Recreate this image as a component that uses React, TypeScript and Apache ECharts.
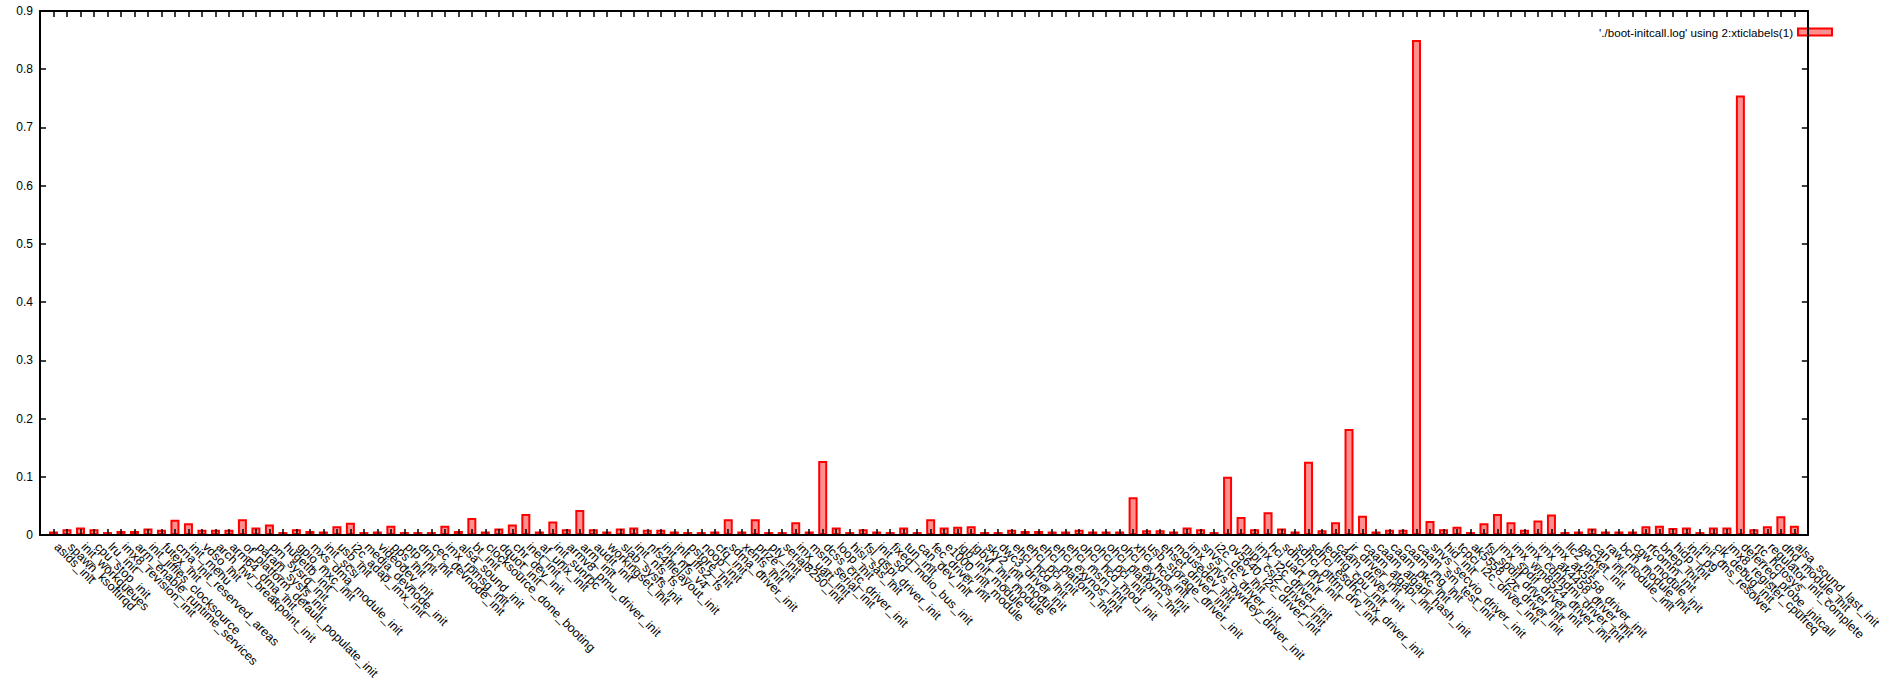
import React, { useEffect, useRef } from "react";
import * as echarts from "echarts";

const labels: string[] = [
  "asids_init", "spawn_ksoftirqd", "init_workqueues", "cpu_stop_init", "lru_init",
  "imx8_revision_init", "arm_enable_runtime_services", "init_jiffies_clocksource", "futex_init", "cma_init_reserved_areas",
  "init_menu", "vdso_init", "arch_hw_breakpoint_init", "arm64_dma_init", "of_platform_default_populate_init",
  "param_sysfs_init", "pm_sysrq_init", "hugetlb_init", "gpio_mxc_init", "mxs_dma_module_init",
  "init_scsi", "usb_init", "i2c_adap_imx_init", "media_devnode_init", "videodev_init",
  "pps_init", "ptp_init", "dmi_init", "cec_devnode_init", "imx_rpmsg_init",
  "alsa_sound_init", "bt_init", "clocksource_done_booting", "dquot_init", "chr_dev_init",
  "inet_init", "af_unix_init", "init_sunrpc", "armv8_pmu_driver_init", "arm_init",
  "audit_init", "workingset_init", "slab_sysfs_init", "init_nfs_fs", "nfs4filelayout_init",
  "init_nfs_v4", "init_jffs2_fs", "pstore_init", "noop_init", "cfq_init",
  "sdma_driver_init", "xenfs_init", "prize_init", "pty_init", "serial8250_init",
  "imx_uart_init", "msm_serial_init", "dcss_crtc_driver_init", "loop_init", "hisi_sas_init",
  "fsl_qspi_driver_init", "init_sd", "fixed_mdio_bus_init", "tun_init", "can_dev_init",
  "fec_driver_init", "e1000_init_module", "igb_init_module", "igbvf_init_module", "sky2_init_module",
  "dwc3_driver_init", "ehci_hcd_init", "ehci_pci_init", "ehci_platform_init", "ehci_exynos_init",
  "ehci_msm_init", "ohci_hcd_mod_init", "ohci_pci_init", "ohci_platform_init", "ohci_exynos_init",
  "xhci_hcd_init", "usb_storage_driver_init", "ehset_driver_init", "mousedev_init", "imx_snvs_pwrkey_driver_init",
  "snvs_rtc_driver_init", "i2c_dev_init", "ov5640_i2c_driver_init", "mipi_csi2_driver_init", "imx_i2c_driver_init",
  "hci_uart_init", "sdhci_drv_init", "sdhci_pltfm_drv_init", "sdhci_esdhc_imx_driver_init", "ledtrig_cpu_init",
  "caam_driver_init", "jr_driver_init", "caam_algapi_init", "caam_algapi_hash_init", "caam_pkc_init",
  "caam_rng_init", "caam_sm_test_init", "snvs_secvio_driver_init", "hid_init", "tcpci_i2c_driver_init",
  "ak5558_i2c_driver_init", "fsl_spdif_driver_init", "imx_spdif_driver_init", "imx_wm8524_driver_init", "imx_cdnhdmi_driver_init",
  "imx_ak4458_driver_init", "imx_ak5558_driver_init", "llc2_init", "packet_init", "can_init",
  "raw_module_init", "bcm_module_init", "cgw_module_init", "rfcomm_init", "bnep_init",
  "hidp_init", "init_p9", "init_dns_resolver", "clk_debug_init", "imx8_register_cpufreq",
  "deferred_probe_initcall", "rtc_hctosys", "regulator_init_complete", "dhd_module_init", "alsa_sound_last_init",
];

const durations: number[] = [
  0.006, 0.01, 0.013, 0.01, 0.005, 0.007, 0.007, 0.011, 0.009, 0.026,
  0.02, 0.009, 0.009, 0.009, 0.027, 0.013, 0.018, 0.005, 0.01, 0.007,
  0.006, 0.015, 0.021, 0.005, 0.006, 0.016, 0.005, 0.005, 0.005, 0.016,
  0.007, 0.029, 0.006, 0.011, 0.018, 0.036, 0.006, 0.023, 0.01, 0.043,
  0.01, 0.006, 0.011, 0.013, 0.009, 0.009, 0.006, 0.005, 0.005, 0.006,
  0.027, 0.006, 0.027, 0.005, 0.005, 0.022, 0.006, 0.127, 0.013, 0.005,
  0.01, 0.006, 0.005, 0.013, 0.005, 0.027, 0.013, 0.014, 0.015, 0.005,
  0.005, 0.009, 0.007, 0.007, 0.006, 0.006, 0.009, 0.006, 0.006, 0.006,
  0.065, 0.008, 0.008, 0.006, 0.013, 0.01, 0.005, 0.1, 0.031, 0.01,
  0.039, 0.011, 0.006, 0.126, 0.008, 0.022, 0.182, 0.033, 0.006, 0.009,
  0.009, 0.85, 0.024, 0.01, 0.014, 0.005, 0.02, 0.036, 0.022, 0.009,
  0.025, 0.035, 0.005, 0.006, 0.011, 0.006, 0.006, 0.006, 0.015, 0.016,
  0.012, 0.013, 0.005, 0.013, 0.013, 0.755, 0.01, 0.015, 0.032, 0.016,
];

const yTicks: number[] = [0, 0.1, 0.2, 0.3, 0.4, 0.5, 0.6, 0.7, 0.8, 0.9];
const seriesName = "'./boot-initcall.log' using 2:xticlabels(1)";

const FONT = "Arimo, 'Liberation Sans', Arial, sans-serif";
const FILL = "#ff8f8f";
const EDGE = "#ff0000";

export default function App() {
  const ref = useRef<HTMLDivElement>(null);
  useEffect(() => {
    document.body.style.margin = "0";
    if (!ref.current) return;
    const chart = echarts.init(ref.current, undefined, { renderer: "svg" });
    const n = labels.length;
    const axisLine = { show: true, onZero: false, lineStyle: { color: "#000", width: 2 } };
    const tick = { show: true, inside: true, length: 6, lineStyle: { color: "#000", width: 1.5 } };
    chart.setOption({
      animation: false,
      backgroundColor: "#fff",
      grid: { left: 40, right: 34, top: 11, bottom: 148, containLabel: false },
      legend: {
        show: true,
        right: 46,
        top: 21,
        align: "right",
        itemWidth: 34,
        itemHeight: 7,
        textStyle: { fontSize: 11.6, fontFamily: FONT, color: "#000" },
        data: [
          {
            name: seriesName,
            icon: "rect",
            itemStyle: { color: FILL, borderColor: EDGE, borderWidth: 2 },
          },
        ],
      },
      xAxis: [
        {
          type: "value",
          position: "bottom",
          min: -1,
          max: n,
          interval: 1,
          z: 10,
          axisLine,
          axisTick: tick,
          splitLine: { show: false },
          axisLabel: {
            show: true,
            rotate: -45,
            margin: 7,
            padding: [0, 0, 0, 4],
            fontSize: 12.5,
            fontFamily: FONT,
            color: "#000",
            formatter: (v: number) => {
              const i = Math.round(v);
              return i >= 0 && i < n ? labels[i] : "";
            },
          },
        },
        {
          type: "value",
          position: "top",
          min: -1,
          max: n,
          interval: 1,
          z: 10,
          axisLine,
          axisTick: tick,
          splitLine: { show: false },
          axisLabel: { show: false },
        },
      ],
      yAxis: [
        {
          type: "value",
          position: "left",
          min: yTicks[0],
          max: yTicks[yTicks.length - 1],
          interval: 0.1,
          z: 10,
          axisLine,
          axisTick: tick,
          splitLine: { show: false },
          axisLabel: {
            margin: 7,
            fontSize: 12,
            fontFamily: FONT,
            color: "#000",
            formatter: (v: number) => String(Number(v.toFixed(1))),
          },
        },
        {
          type: "value",
          position: "right",
          min: yTicks[0],
          max: yTicks[yTicks.length - 1],
          interval: 0.1,
          z: 10,
          axisLine,
          axisTick: tick,
          splitLine: { show: false },
          axisLabel: { show: false },
        },
      ],
      series: [
        {
          name: seriesName,
          type: "bar",
          xAxisIndex: 0,
          yAxisIndex: 0,
          barWidth: 9,
          data: durations.map((d, i) => [i, d]),
          itemStyle: { color: FILL, borderColor: EDGE, borderWidth: 2 },
        },
      ],
    });
    return () => chart.dispose();
  }, []);
  return <div ref={ref} style={{ width: 1884, height: 683 }} />;
}
